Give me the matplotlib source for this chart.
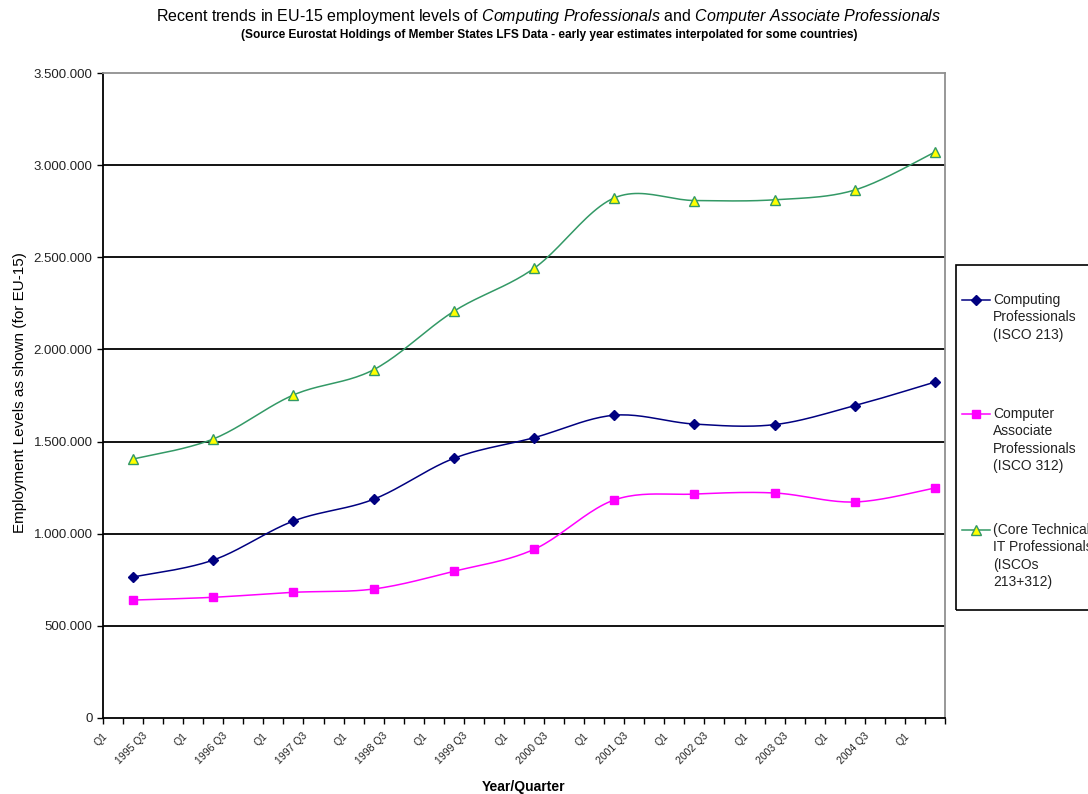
import numpy as np
import matplotlib
matplotlib.use("Agg")
import matplotlib.pyplot as plt
from matplotlib import font_manager
from matplotlib.lines import Line2D
from matplotlib.patches import Rectangle


# employment levels, spring (Q2) of every year
years = [1995, 1996, 1997, 1998, 1999, 2000, 2001, 2002, 2003, 2004, 2005]
computing = [765000, 857000, 1069000, 1187000, 1409000, 1521000,
             1643000, 1595000, 1592000, 1695000, 1823000]
associate = [640000, 655000, 682000, 700000, 796000, 915000,
             1183000, 1215000, 1221000, 1172000, 1248000]
core_it = [1405000, 1514000, 1753000, 1890000, 2207000, 2440000,
           2822000, 2808000, 2812000, 2865000, 3071000]

first_year = 1995
n_quarters = 42          # 1995 Q1 .. 2005 Q2
y_ticks = [0, 500000, 1000000, 1500000, 2000000, 2500000, 3000000, 3500000]

legend_labels = [
    ["Computing", "Professionals", "(ISCO 213)"],
    ["Computer", "Associate", "Professionals", "(ISCO 312)"],
    ["(Core Technical", "IT Professionals", "(ISCOs", "213+312)"],
]


def pick_font(names):
    for n in names:
        try:
            font_manager.findfont(n, fallback_to_default=False)
            return n
        except Exception:
            pass
    return "DejaVu Sans"


BASE = pick_font(["Liberation Sans", "Arial"])

plt.rcParams["font.family"] = [BASE, "DejaVu Sans"]
plt.rcParams["mathtext.fontset"] = "custom"
plt.rcParams["mathtext.rm"] = BASE
plt.rcParams["mathtext.it"] = BASE + ":italic"


def smooth(x, y, n=24):
    # bezier smoothing with neighbour-based control points
    x = np.asarray(x, float)
    y = np.asarray(y, float)
    pts = np.column_stack([x, y])
    ext = np.vstack([pts[0], pts, pts[-1]])
    t = np.linspace(0, 1, n)[:, None]
    out = []
    for i in range(len(pts) - 1):
        p0 = pts[i]
        p3 = pts[i + 1]
        p1 = p0 + (ext[i + 2] - ext[i]) / 6
        p2 = p3 - (ext[i + 3] - ext[i + 1]) / 6
        seg = ((1 - t) ** 3) * p0 + 3 * (1 - t) ** 2 * t * p1 \
            + 3 * (1 - t) * t ** 2 * p2 + t ** 3 * p3
        out.append(seg if i == 0 else seg[1:])
    out = np.vstack(out)
    return out[:, 0], out[:, 1]


W, H = 1088, 794
fig = plt.figure(figsize=(W / 100, H / 100), dpi=100)
ax = fig.add_axes([103 / W, 1 - 718 / H, 842 / W, 645 / H])

xq = [4 * (yr - first_year) + 2 for yr in years]

series = [
    (computing, dict(color="#000080", marker="D", markersize=5,
                     markerfacecolor="#000080", markeredgecolor="#000080")),
    (associate, dict(color="#FF00FF", marker="s", markersize=6,
                     markerfacecolor="#FF00FF", markeredgecolor="#FF00FF")),
    (core_it, dict(color="#339966", marker="^", markersize=7,
                   markerfacecolor="#FFFF00", markeredgecolor="#339966",
                   markeredgewidth=1.0)),
]
for vals, st in series:
    sx, sy = smooth(xq, vals)
    ax.plot(sx, sy, color=st["color"], lw=1.1, zorder=3)
    ax.plot(xq, vals, ls="none", zorder=4, clip_on=False,
            **{k: v for k, v in st.items() if k != "color"})

ax.set_xlim(0.5, n_quarters + 0.5)
ax.set_ylim(0, 3500000)

ax.set_yticks(y_ticks)
ax.set_yticklabels([f"{v:,.0f}".replace(",", ".") for v in y_ticks],
                   fontsize=9.5, color="#222222")
for v in y_ticks[1:-1]:
    ax.axhline(v, color="black", lw=1.3, zorder=1)

# category ticks sit between quarters, labels on every second quarter
ax.set_xticks(np.arange(0.5, n_quarters + 1, 1.0))
ax.set_xticklabels([])
ax.tick_params(axis="both", direction="out", length=4, width=1, color="black")
for q in range(1, n_quarters + 1, 2):
    yr = first_year + (q - 1) // 4
    lab = "Q1" if (q - 1) % 4 == 0 else f"{yr} Q3"
    ax.text(q - 0.55, -0.02, lab, transform=ax.get_xaxis_transform(),
            rotation=45, rotation_mode="anchor", ha="right", va="top",
            fontsize=7.5, color="#222222")

for s in ["left", "bottom"]:
    ax.spines[s].set_color("black")
    ax.spines[s].set_linewidth(1.3)
for s in ["top", "right"]:
    ax.spines[s].set_color("#909090")
    ax.spines[s].set_linewidth(1.3)

ax.set_ylabel("Employment Levels as shown (for EU-15)", fontsize=11)
ax.yaxis.set_label_coords(-76 / 842, 1 - (393 - 73) / 645)
fig.text(524 / W, 1 - 787 / H, "Year/Quarter", fontsize=10, fontweight="bold",
         ha="center", va="center")

fig.text(549 / W, 1 - 16 / H,
         r"Recent trends in EU-15 employment levels of "
         r"$\mathit{Computing\ Professionals}$ and "
         r"$\mathit{Computer\ Associate\ Professionals}$",
         fontsize=11.5, ha="center", va="center")
fig.text(549 / W, 1 - 35 / H,
         "(Source Eurostat Holdings of Member States LFS Data - early year "
         "estimates interpolated for some countries)",
         fontsize=8.6, fontweight="bold", ha="center", va="center")

# legend box, running off the right edge
fig.patches.append(Rectangle((956 / W, 1 - 610 / H), 200 / W, 345 / H,
                             transform=fig.transFigure, fill=False,
                             edgecolor="black", lw=1.2))
entry_y = [300, 414, 530]
for (vals, st), lines, ey in zip(series, legend_labels, entry_y):
    yy = 1 - ey / H
    fig.lines.append(Line2D([962 / W, 990 / W], [yy, yy],
                            transform=fig.transFigure, lw=1.1,
                            color=st["color"]))
    fig.lines.append(Line2D([976 / W], [yy], transform=fig.transFigure,
                            ls="none", **{k: v for k, v in st.items()
                                          if k != "color"}))
    for j, line in enumerate(lines):
        fig.text(993 / W, 1 - (ey + 17.3 * j) / H, line, fontsize=10,
                 ha="left", va="center", color="#222222")

fig.savefig("out.png", dpi=100)
